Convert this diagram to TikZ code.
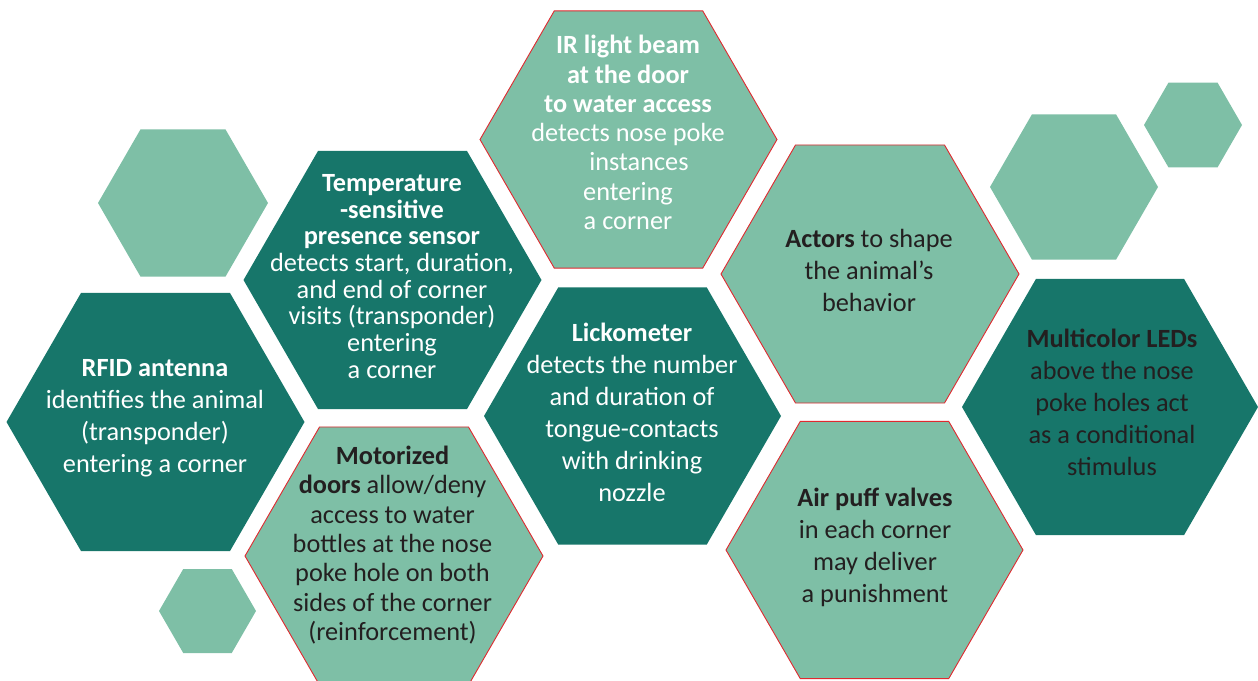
\documentclass[tikz,border=0pt]{standalone}
\usepackage{fontspec}
\setmainfont{Carlito}
\usetikzlibrary{shapes.geometric}
\definecolor{dteal}{HTML}{17766A}
\definecolor{lteal}{HTML}{7EBFA6}
\definecolor{redline}{HTML}{E0292F}
\definecolor{darktext}{HTML}{231F20}
\tikzset{
  hexa/.style={regular polygon, regular polygon sides=6, inner sep=0pt, outer sep=0pt, minimum size=#1},
  darkhex/.style={hexa=#1, fill=dteal},
  lighthex/.style={hexa=#1, fill=lteal},
  redhex/.style={hexa=#1, fill=lteal, draw=redline, line width=0.9pt},
  txt/.style={align=center, inner sep=0pt, font=\fontsize{26.3}{32}\selectfont},
  wtxt/.style={txt, text=white},
  btxt/.style={txt, text=darktext},
}
\begin{document}
\begin{tikzpicture}[x=1pt,y=-1pt]
\useasboundingbox (0,0) rectangle (1258,680);
% decorative hexagons
\node[lighthex=170] (d1) at (183,203) {};
\node[lighthex=97] (d2) at (207.5,611) {};
\node[lighthex=168] (d3) at (1074,187) {};
\node[lighthex=98] (d4) at (1193,125) {};
% content hexagons
\node[darkhex=298] (rfid) at (155.5,422) {};
\node[darkhex=298] (temp) at (392.5,280) {};
\node[redhex=297] (ir) at (628.5,139.5) {};
\node[darkhex=297] (lick) at (632.5,416) {};
\node[redhex=298] (motor) at (394,556) {};
\node[redhex=298] (act) at (870,274) {};
\node[redhex=297] (air) at (874.5,550) {};
\node[darkhex=296] (led) at (1110,407) {};
% texts
\node[wtxt] (trfid) at (155,418.5) {\textbf{RFID antenna}\\identifies the animal\\(transponder)\\entering a corner};
\node[wtxt, font=\fontsize{26.3}{26.7}\selectfont] (ttemp) at (392,276.5) {\textbf{Temperature}\\\textbf{-sensitive}\\\textbf{presence sensor}\\detects start, duration,\\and end of corner\\visits (transponder)\\entering\\a corner};
\node[wtxt, font=\fontsize{26.3}{29.3}\selectfont] (tir) at (628,132.5) {\textbf{IR light beam}\\\textbf{at the door}\\\textbf{to water access}\\detects nose poke\\\hspace*{22pt}instances\\entering\\a corner};
\node[wtxt] (tlick) at (632,412) {\textbf{Lickometer}\\detects the number\\and duration of\\tongue-contacts\\with drinking\\nozzle};
\node[btxt, font=\fontsize{26.3}{29.4}\selectfont] (tmotor) at (392.5,545) {\textbf{Motorized}\\\textbf{doors} allow/deny\\access to water\\bottles at the nose\\poke hole on both\\sides of the corner\\(reinforcement)};
\node[btxt] (tact) at (869,270.5) {\textbf{Actors} to shape\\the animal’s\\behavior};
\node[btxt] (tair) at (875,547.5) {\textbf{Air puff valves}\\in each corner\\may deliver\\a punishment};
\node[btxt] (tled) at (1112,402.5) {\textbf{Multicolor LEDs}\\above the nose\\poke holes act\\as a conditional\\stimulus};
\end{tikzpicture}
\end{document}
